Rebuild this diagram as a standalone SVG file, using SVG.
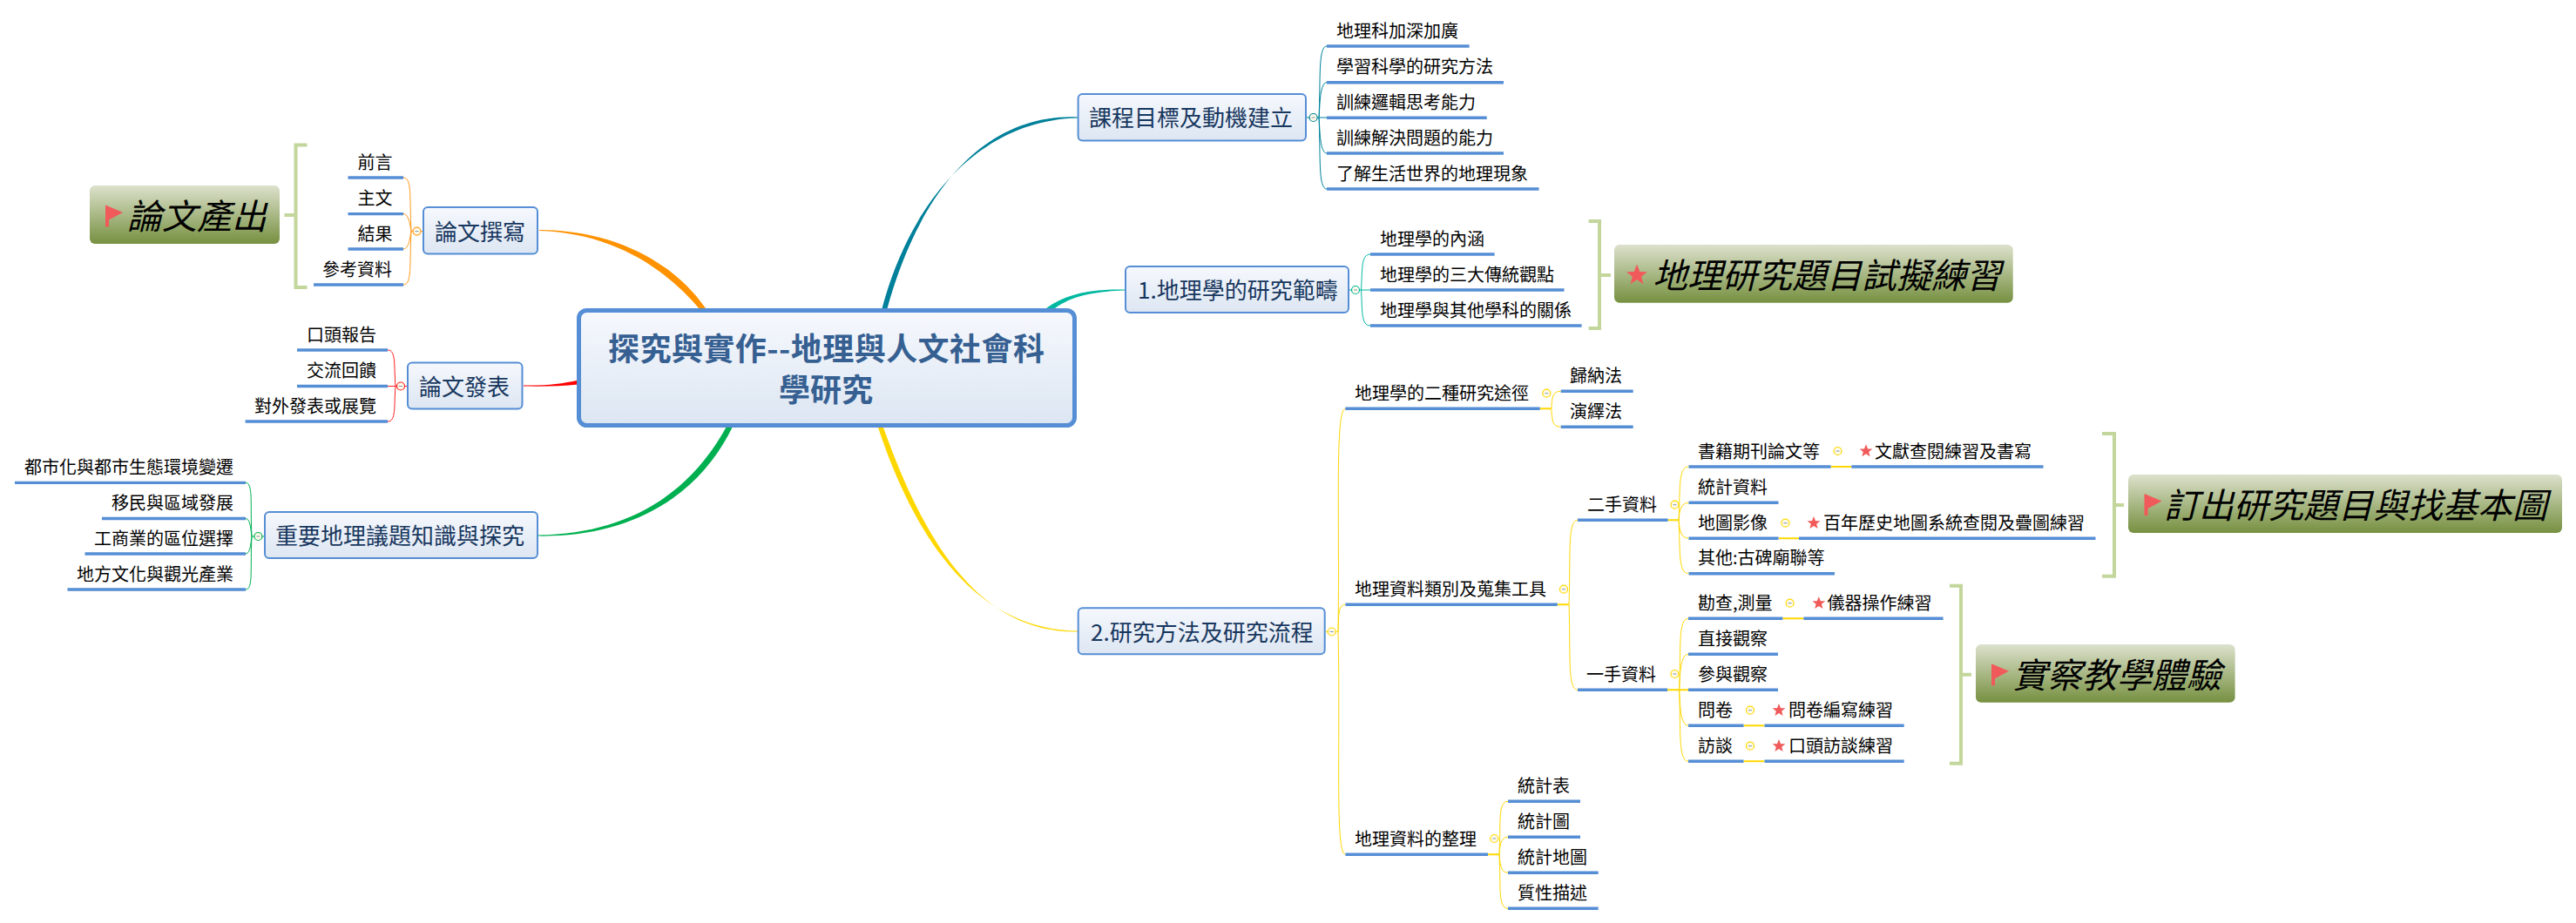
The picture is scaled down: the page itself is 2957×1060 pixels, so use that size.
<svg xmlns="http://www.w3.org/2000/svg" width="2957" height="1060" viewBox="0 0 2957 1060">
<style>
text{font-family:"Noto Sans CJK TC","Noto Sans CJK SC",sans-serif}
.l{font-size:20px;fill:#000}
.m{font-size:26px;fill:#17375e}
.c{font-size:36px;font-weight:700;fill:#366092}
.g{font-size:40px;font-style:italic;fill:#000}
.u{stroke:#558ed5;stroke-width:3.4;fill:none}
.box{fill:url(#bg);stroke:#558ed5;stroke-width:2}
.root{fill:url(#bg);stroke:#558ed5;stroke-width:5}
.gb{fill:url(#gg)}
.br{fill:none;stroke:#c3d69b;stroke-width:4}
.k{fill:none;stroke-width:1}
.lk{stroke-width:2}
.ic{fill:#f15a5a}
.or{stroke:#ff9a1a}.rd{stroke:#ff2020}.gr{stroke:#00b050}.te{stroke:#00839c}.tq{stroke:#00b8a0}.ye{stroke:#ffd700}
.cc{stroke-width:1.2}
.mn{stroke:#7f93b8;stroke-width:1;fill:none}
</style>
<defs>
<linearGradient id="bg" x1="0" y1="0" x2="0" y2="1"><stop offset="0" stop-color="#f6f8fd"/><stop offset="1" stop-color="#dce6f2"/></linearGradient>
<linearGradient id="gg" x1="0" y1="0" x2="0" y2="1"><stop offset="0" stop-color="#dce1cc"/><stop offset="1" stop-color="#769040"/></linearGradient>
<polygon id="star" points="0,-10 2.6,-3.2 9.5,-3.1 4.1,1.3 5.9,8.1 0,4.2 -5.9,8.1 -4.1,1.3 -9.5,-3.1 -2.6,-3.2"/>
<path id="flag" d="M0,0L20,8.5L4,17V25H0Z"/>
</defs>
<rect width="2957" height="1060" fill="#fff"/>

<g id="connectors">
<path fill="#ff9200" d="M619,263.9C700,264 770,297 810,354L804,356C760,304 700,268 619,265.1Z"/>
<path fill="#00809a" d="M1237,134.4C1130,130 1055,220 1018,356L1012,356C1047,224 1130,138 1237,135.6Z"/>
<path fill="#00b8a0" d="M1291,332.4C1250,332 1223,338 1201,354L1206,358C1226,341 1250,335 1291,333.6Z"/>
<path fill="#ff0000" d="M601,442.4C625,443 645,441 664,436.5L664,441.5C645,443.5 625,444 601,443.6Z"/>
<path fill="#00b050" d="M618,614.4C720,613 792,568 835,488L841,490C800,574 720,617 618,615.6Z"/>
<path fill="#ffd700" d="M1237,724.4C1122,723 1051,622 1007,488L1013,488C1059,618 1122,727 1237,725.6Z"/>
<g class="k or"><path d="M485,265.6H472M472,265.6C470,225 473,204 463,204M472,265.6C471,262 470,245.6 463,245.6M472,265.6C471,270 470,286 463,286M472,265.6C470,306 473,327 463,327"/></g>
<g class="k rd"><path d="M467,443.5H445M454,443.5C452,420 455,402 445,402M454,443.5C452,467 455,484 445,484"/></g>
<g class="k gr"><path d="M303,616H289M289,616C287,580 291,554.4 282,554.4M289,616C288,612 288,595.5 282,595.5M289,616C288,620 288,636 282,636M289,616C287,652 291,677 282,677"/></g>
<g class="k te"><path d="M1500,135H1523M1514,135C1516,90 1513,53 1523,53M1514,135C1515,130 1514,94.7 1523,94.7M1514,135C1515,140 1514,176 1523,176M1514,135C1516,180 1513,217 1523,217"/></g>
<g class="k tq"><path d="M1549,333H1573M1562.5,333C1564,310 1562,292 1573,292M1562.5,333C1564,356 1562,374 1573,374"/></g>
<g class="k ye">
<path d="M1521.7,725.5H1536M1536,725.5C1537,710 1535,694.3 1544.4,694.3M1536,725.5C1538,600 1532,469.3 1544.4,469.3M1536,725.5C1539,850 1532,981.3 1544.4,981.3"/>
<path d="M1780.7,469.3C1782,458 1781,449.3 1791.7,449.3M1780.7,469.3C1782,481 1781,490.3 1791.7,490.3"/>
<path d="M1801,694.3C1803,640 1799,597.3 1811,597.3M1801,694.3C1803,750 1799,792.3 1811,792.3"/>
<path d="M1927,597.3C1929,562 1926,536 1938.5,536M1927,597.3C1928,592 1927,577.3 1938.5,577.3M1927,597.3C1928,602 1927,618.3 1938.5,618.3M1927,597.3C1929,632 1926,658.7 1938.5,658.7"/>
<path d="M1927.6,792.3C1929.6,745 1926,710.3 1938,710.3M1927.6,792.3C1928.6,786 1927,751.3 1938,751.3M1927.6,792.3C1928.6,798 1927,833.3 1938,833.3M1927.6,792.3C1929.6,838 1926,874.3 1938,874.3"/>
<path d="M1721,981.3C1723,945 1719,920.3 1731,920.3M1721,981.3C1722,975 1721,961.3 1731,961.3M1721,981.3C1722,987 1721,1002.3 1731,1002.3M1721,981.3C1723,1018 1719,1043.3 1731,1043.3"/>
<path class="lk" d="M1767.7,469.3H1780.7M1787.8,694.3H1801M1914.6,597.3H1927M1914,792.3H1938M1708,981.3H1721M2101.6,536H2125.3M2041.5,618.3H2065M2046.4,710.3H2070.4M2001.5,833.3H2025.5M2001.5,874.3H2025.5"/>
</g>
</g>

<g id="collapse-markers">
<g fill="#fffbe8">
<circle class="or cc" cx="478.5" cy="265.6" r="4.5"/><circle class="rd cc" cx="460" cy="443.5" r="4.5"/><circle class="gr cc" cx="296.4" cy="616" r="4.5"/>
<circle class="te cc" cx="1507.6" cy="135" r="4.5"/><circle class="tq cc" cx="1556" cy="333" r="4.5"/><circle class="ye cc" cx="1528.6" cy="725.5" r="4.5"/>
<circle class="ye cc" cx="1775.3" cy="451.7" r="4.5"/><circle class="ye cc" cx="1795" cy="676.7" r="4.5"/><circle class="ye cc" cx="1922.5" cy="579.7" r="4.5"/><circle class="ye cc" cx="1922.4" cy="774" r="4.5"/><circle class="ye cc" cx="1715.3" cy="963" r="4.5"/>
<circle class="ye cc" cx="2109.5" cy="518" r="4.5"/><circle class="ye cc" cx="2049.4" cy="600.7" r="4.5"/><circle class="ye cc" cx="2054.6" cy="692.7" r="4.5"/><circle class="ye cc" cx="2009" cy="815.7" r="4.5"/><circle class="ye cc" cx="2009" cy="856.7" r="4.5"/>
</g>
<path class="mn" d="M476.5,265.6h4M458,443.5h4M294.4,616h4M1505.6,135h4M1554,333h4M1526.6,725.5h4M1773.3,451.7h4M1793,676.7h4M1920.5,579.7h4M1920.4,774h4M1713.3,963h4M2107.5,518h4M2047.4,600.7h4M2052.6,692.7h4M2007,815.7h4M2007,856.7h4"/>
</g>

<g id="root"><rect class="root" x="664.5" y="356.5" width="569" height="132" rx="9"/>
<text class="c" x="698" y="414" textLength="501">探究與實作--地理與人文社會科</text><text class="c" x="894" y="461">學研究</text></g>

<g id="n-thesis"><rect class="box" x="486" y="238" width="131" height="53.5" rx="5"/><text class="m" x="499" y="275.5">論文撰寫</text></g>
<g id="n-present"><rect class="box" x="468" y="416.5" width="131.5" height="53" rx="5"/><text class="m" x="481" y="453.5">論文發表</text></g>
<g id="n-issues"><rect class="box" x="304" y="588" width="313" height="53" rx="5"/><text class="m" x="316" y="625">重要地理議題知識與探究</text></g>
<g id="n-goal"><rect class="box" x="1237.6" y="108" width="261.4" height="53.5" rx="5"/><text class="m" x="1250" y="145">課程目標及動機建立</text></g>
<g id="n-scope"><rect class="box" x="1292" y="306" width="256" height="53" rx="5"/><text class="m" x="1306" y="343">1.地理學的研究範疇</text></g>
<g id="n-method"><rect class="box" x="1237.7" y="698.3" width="283" height="53" rx="5"/><text class="m" x="1252" y="735.5">2.研究方法及研究流程</text></g>

<g id="l-intro"><path class="u" d="M399.5,204H463"/><text class="l" x="410.5" y="193.6">前言</text></g>
<g id="l-body"><path class="u" d="M399.5,245.6H463"/><text class="l" x="410.5" y="235.2">主文</text></g>
<g id="l-result"><path class="u" d="M399.5,286H463"/><text class="l" x="410.5" y="275.6">結果</text></g>
<g id="l-ref"><path class="u" d="M360,327H463"/><text class="l" x="370" y="316.6">參考資料</text></g>
<g id="l-oral"><path class="u" d="M341,402H445"/><text class="l" x="352" y="391.6">口頭報告</text></g>
<g id="l-feedback"><path class="u" d="M341,443.5H445"/><text class="l" x="352" y="433.1">交流回饋</text></g>
<g id="l-exhibit"><path class="u" d="M281.6,484H445"/><text class="l" x="292" y="473.6">對外發表或展覽</text></g>
<g id="l-urban"><path class="u" d="M17,554.4H282"/><text class="l" x="28" y="544">都市化與都市生態環境變遷</text></g>
<g id="l-migrate"><path class="u" d="M117,595.5H282"/><text class="l" x="128" y="585.1">移民與區域發展</text></g>
<g id="l-industry"><path class="u" d="M97.5,636H282"/><text class="l" x="108" y="625.6">工商業的區位選擇</text></g>
<g id="l-culture"><path class="u" d="M77.5,677H282"/><text class="l" x="88" y="666.6">地方文化與觀光產業</text></g>

<g id="l-g1"><path class="u" d="M1523,53H1686.6"/><text class="l" x="1534" y="42.6">地理科加深加廣</text></g>
<g id="l-g2"><path class="u" d="M1523,94.7H1726"/><text class="l" x="1534" y="84.3">學習科學的研究方法</text></g>
<g id="l-g3"><path class="u" d="M1523,135.3H1706.7"/><text class="l" x="1534" y="124.9">訓練邏輯思考能力</text></g>
<g id="l-g4"><path class="u" d="M1523,176H1726"/><text class="l" x="1534" y="165.6">訓練解決問題的能力</text></g>
<g id="l-g5"><path class="u" d="M1523,217H1766.5"/><text class="l" x="1534" y="206.6">了解生活世界的地理現象</text></g>
<g id="l-s1"><path class="u" d="M1573,292H1715.6"/><text class="l" x="1584" y="281.6">地理學的內涵</text></g>
<g id="l-s2"><path class="u" d="M1573,333H1795.5"/><text class="l" x="1584" y="322.6">地理學的三大傳統觀點</text></g>
<g id="l-s3"><path class="u" d="M1573,374H1815.6"/><text class="l" x="1584" y="363.6">地理學與其他學科的關係</text></g>

<g id="l-two"><path class="u" d="M1544.3,469.3H1767.7"/><text class="l" x="1555" y="459">地理學的二種研究途徑</text></g>
<g id="l-induct"><path class="u" d="M1791.7,449.3H1874.7"/><text class="l" x="1802" y="439">歸納法</text></g>
<g id="l-deduct"><path class="u" d="M1791.7,490.3H1874.7"/><text class="l" x="1802" y="480">演繹法</text></g>
<g id="l-data"><path class="u" d="M1544.4,694.3H1787.8"/><text class="l" x="1555" y="684">地理資料類別及蒐集工具</text></g>
<g id="l-second"><path class="u" d="M1811,597.3H1914.6"/><text class="l" x="1822" y="587">二手資料</text></g>
<g id="l-book"><path class="u" d="M1938.5,536H2101.6"/><text class="l" x="1949" y="525.6">書籍期刊論文等</text></g>
<g id="l-book-x"><path class="u" d="M2125.3,536H2345.5"/><use class="ic" href="#star" transform="translate(2142,518) scale(.78)"/><text class="l" x="2152" y="525.6">文獻查閱練習及書寫</text></g>
<g id="l-stat"><path class="u" d="M1938.5,577.3H2041.5"/><text class="l" x="1949" y="567">統計資料</text></g>
<g id="l-map"><path class="u" d="M1938.5,618.3H2041.5"/><text class="l" x="1949" y="608">地圖影像</text></g>
<g id="l-map-x"><path class="u" d="M2065,618.3H2405.5"/><use class="ic" href="#star" transform="translate(2082,600.7) scale(.78)"/><text class="l" x="2093" y="608">百年歷史地圖系統查閱及疊圖練習</text></g>
<g id="l-other"><path class="u" d="M1938.5,658.7H2106"/><text class="l" x="1949" y="648.3">其他:古碑廟聯等</text></g>
<g id="l-first"><path class="u" d="M1811,792.3H1914"/><text class="l" x="1821" y="782">一手資料</text></g>
<g id="l-survey"><path class="u" d="M1938,710.3H2046.4"/><text class="l" x="1949" y="700">勘查,測量</text></g>
<g id="l-survey-x"><path class="u" d="M2070.4,710.3H2230.6"/><use class="ic" href="#star" transform="translate(2087.8,692.7) scale(.78)"/><text class="l" x="2097.5" y="700">儀器操作練習</text></g>
<g id="l-direct"><path class="u" d="M1938,751.3H2041"/><text class="l" x="1949" y="741">直接觀察</text></g>
<g id="l-partic"><path class="u" d="M1938,792.3H2041"/><text class="l" x="1949" y="782">參與觀察</text></g>
<g id="l-quest"><path class="u" d="M1938,833.3H2001.5"/><text class="l" x="1949" y="823">問卷</text></g>
<g id="l-quest-x"><path class="u" d="M2025.5,833.3H2185.7"/><use class="ic" href="#star" transform="translate(2042,815.7) scale(.78)"/><text class="l" x="2053" y="823">問卷編寫練習</text></g>
<g id="l-inter"><path class="u" d="M1938,874.3H2001.5"/><text class="l" x="1949" y="864">訪談</text></g>
<g id="l-inter-x"><path class="u" d="M2025.5,874.3H2185.7"/><use class="ic" href="#star" transform="translate(2042,856.7) scale(.78)"/><text class="l" x="2053" y="864">口頭訪談練習</text></g>
<g id="l-org"><path class="u" d="M1544.4,981.3H1708"/><text class="l" x="1555" y="971">地理資料的整理</text></g>
<g id="l-table"><path class="u" d="M1731,920.3H1814"/><text class="l" x="1742" y="910">統計表</text></g>
<g id="l-chart"><path class="u" d="M1731,961.3H1814"/><text class="l" x="1742" y="951">統計圖</text></g>
<g id="l-smap"><path class="u" d="M1731,1002.3H1834.7"/><text class="l" x="1742" y="992">統計地圖</text></g>
<g id="l-qual"><path class="u" d="M1731,1043.3H1834.7"/><text class="l" x="1742" y="1033">質性描述</text></g>

<g id="b-left"><path class="br" d="M352.5,166.5H339.5V330H352.5M339.5,247H326.5"/></g>
<g id="b-scope"><path class="br" d="M1823.6,254H1836V377H1823.6M1836,316H1849"/></g>
<g id="b-second"><path class="br" d="M2413,498H2427V661.7H2413M2427,580H2438"/></g>
<g id="b-first"><path class="br" d="M2238,672.7H2251V876.7H2238M2251,774.7H2263"/></g>

<g id="t-output"><rect class="gb" x="103" y="213" width="218" height="67" rx="6"/><use class="ic" href="#flag" x="121" y="235.5"/><text class="g" x="146" y="262.5">論文產出</text></g>
<g id="t-topic"><rect class="gb" x="1853" y="281" width="457.7" height="66.7" rx="6"/><use class="ic" href="#star" transform="translate(1879,316) scale(1.25)"/><text class="g" x="1897" y="331">地理研究題目試擬練習</text></g>
<g id="t-map"><rect class="gb" x="2443" y="545" width="498" height="67" rx="6"/><use class="ic" href="#flag" x="2461.5" y="567"/><text class="g" x="2484" y="595">訂出研究題目與找基本圖</text></g>
<g id="t-field"><rect class="gb" x="2268" y="740" width="297.6" height="66.7" rx="6"/><use class="ic" href="#flag" x="2286" y="762.3"/><text class="g" x="2310" y="790">實察教學體驗</text></g>
</svg>
